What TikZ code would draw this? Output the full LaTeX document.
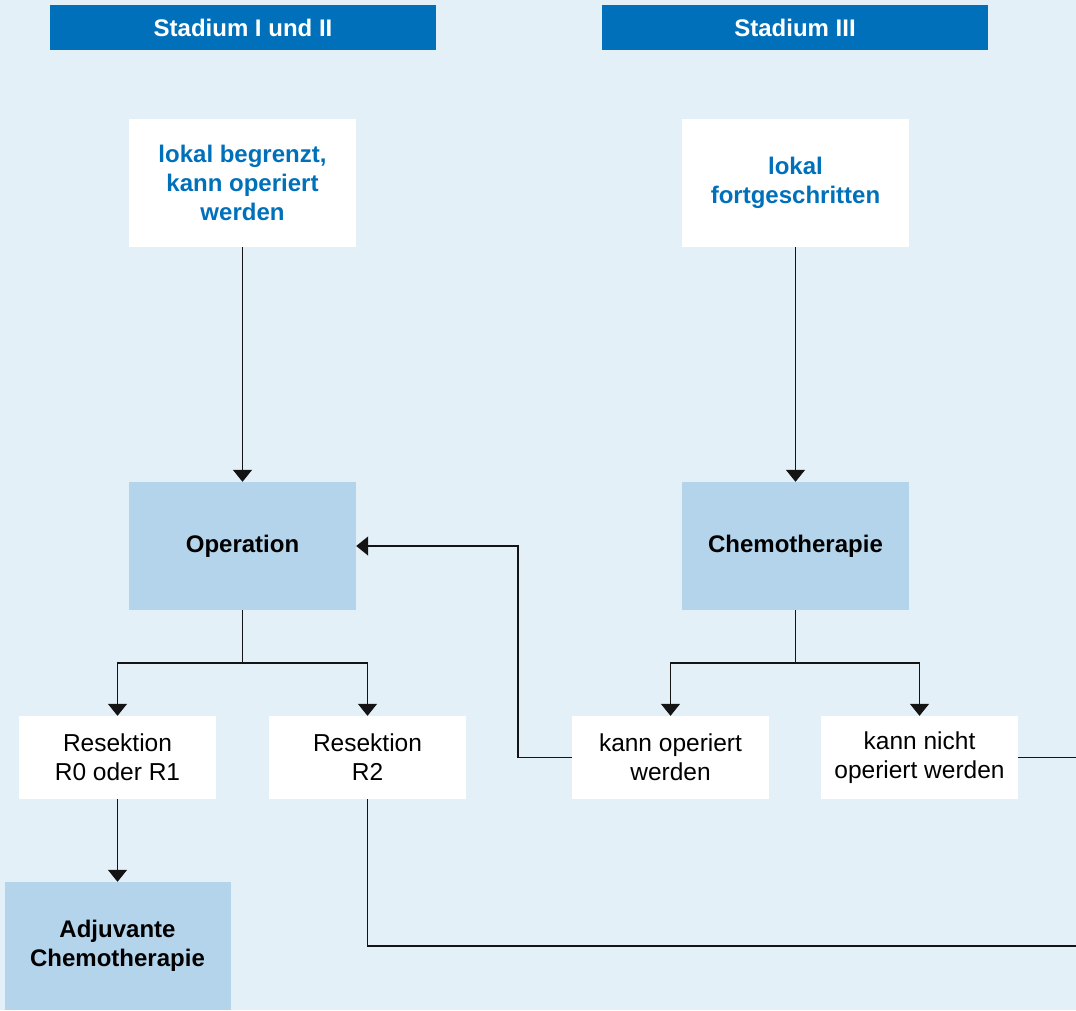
\documentclass[tikz,border=0pt]{standalone}
\usepackage{fontspec}
\setmainfont{Liberation Sans}
\usetikzlibrary{arrows.meta}
\definecolor{bg}{HTML}{E4F0F8}
\definecolor{hdr}{HTML}{0070BA}
\definecolor{lb}{HTML}{B3D4EB}
\definecolor{ln}{HTML}{141414}
\tikzset{
  x=1pt, y=-1pt,
  hdrbox/.style={fill=hdr, text=white, font=\fontsize{24}{29}\selectfont\bfseries, minimum width=386pt, minimum height=45pt, inner sep=0pt},
  whitebox/.style={fill=white, text=hdr, font=\fontsize{24}{29}\selectfont\bfseries, align=center, minimum width=227pt, minimum height=128pt, inner sep=0pt},
  bluebox/.style={fill=lb, text=black, font=\fontsize{24}{29}\selectfont\bfseries, align=center, minimum width=227pt, minimum height=128pt, inner sep=0pt},
  smallbox/.style={fill=white, text=black, font=\fontsize{24.5}{29}\selectfont, align=center, minimum width=197pt, minimum height=83pt, inner sep=0pt},
  conn/.style={draw=ln, line width=1.4pt},
  arr/.style={conn, -{Triangle[width=19pt,length=12pt]}},
}
\begin{document}
\begin{tikzpicture}
\fill[bg] (0,0) rectangle (1076,1010);
\useasboundingbox (0,0) rectangle (1076,1010);
\node[hdrbox] (h1) at (243,27.5) {Stadium I und II};
\node[hdrbox] (h2) at (795,27.5) {Stadium III};
\node[whitebox] (w1) at (242.5,183) {lokal begrenzt,\\kann operiert\\werden};
\node[whitebox] (w2) at (795.5,183) {lokal\\fortgeschritten};
\node[bluebox] (op) at (242.5,546) {Operation};
\node[bluebox] (ch) at (795.5,546) {Chemotherapie};
\node[smallbox] (r01) at (117.5,757.5) {Resektion\\R0 oder R1};
\node[smallbox] (r2) at (367.5,757.5) {Resektion\\R2};
\node[smallbox] (ko) at (670.5,757.5) {kann operiert\\werden};
\node[smallbox] (kno) at (919.5,757.5) {kann nicht\\operiert werden};
\node[bluebox, minimum width=226pt] (adj) at (117.5,946) {Adjuvante\\Chemotherapie};
\coordinate (b1) at (242.5,663);
\coordinate (b2) at (795.5,663);
\coordinate (e1) at (1076,757.5);
\coordinate (e2) at (1076,946);
\draw[arr] (w1.south) -- (op.north);
\draw[arr] (w2.south) -- (ch.north);
\draw[conn] (op.south) -- (b1);
\draw[arr] (b1) -| (r01.north);
\draw[arr] (b1) -| (r2.north);
\draw[conn] (ch.south) -- (b2);
\draw[arr] (b2) -| (ko.north);
\draw[arr] (b2) -| (kno.north);
\draw[arr] (ko.west) -- ++(-54,0) |- (op.east);
\draw[conn] (kno.east) -- (e1);
\draw[conn] (r2.south) |- (e2);
\draw[arr] (r01.south) -- (adj.north);
\end{tikzpicture}
\end{document}
